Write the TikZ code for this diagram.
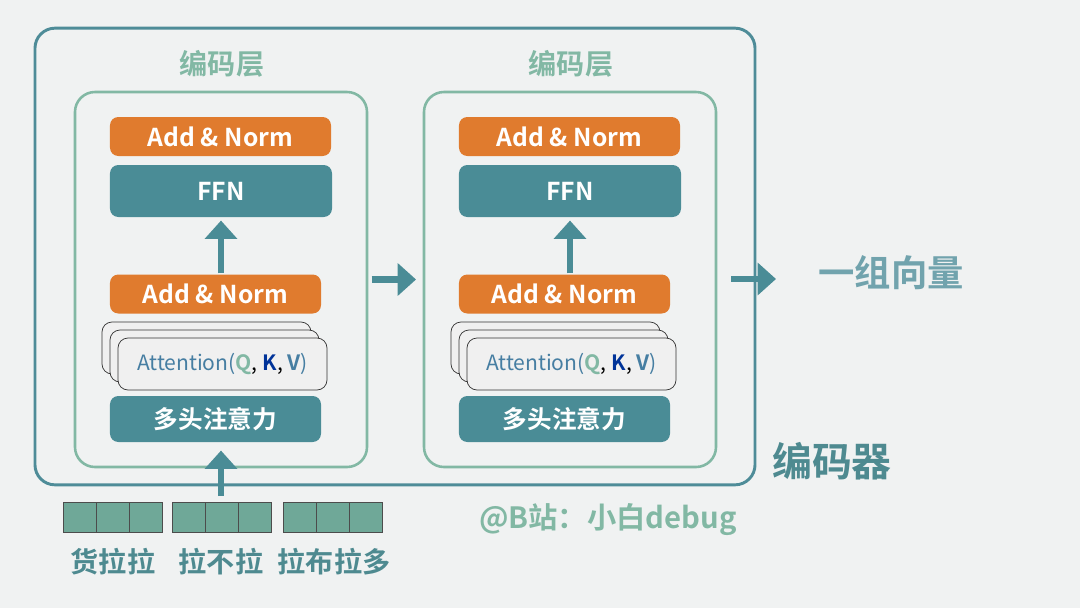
\documentclass[tikz,border=0pt]{standalone}
\usepackage{fontspec}
\setmainfont{Noto Sans CJK SC}[BoldFont={Noto Sans CJK SC Bold}]
\usepackage{xcolor}
\usetikzlibrary{arrows.meta,positioning}
\definecolor{bgc}{HTML}{F0F2F2}
\definecolor{encc}{HTML}{4E8C98}
\definecolor{layc}{HTML}{82B8A4}
\definecolor{orc}{HTML}{E07B2E}
\definecolor{tealc}{HTML}{4A8C96}
\definecolor{tokc}{HTML}{6FA898}
\definecolor{txtc}{HTML}{4E8A90}
\begin{document}
\begin{tikzpicture}[x=0.03cm,y=-0.03cm,font=\bfseries,
    box/.style={rounded corners=0.25cm,text=white,font=\bfseries\fontsize{21}{21}\selectfont},
    addn/.style={box,fill=orc,minimum height=1.17cm},
    blk/.style={box,fill=tealc},
    att/.style={draw=black!80,fill=gray!12,rounded corners=0.3cm,line width=0.6pt,minimum width=6.27cm,minimum height=1.56cm},
    thk/.style={-{Triangle[length=0.55cm,width=0.95cm]},line width=0.2cm,draw=tealc},
    tok/.style={draw=black!70,fill=tokc,minimum width=0.99cm,minimum height=0.9cm,inner sep=0pt,line width=0.6pt}]
    \fill[bgc] (0,0) rectangle (1080,608);
    \node[draw=encc,line width=2.5pt,rounded corners=0.6cm,minimum width=21.6cm,minimum height=13.7cm] (enc) at (395,256.5) {};
    % two encoder layers
    \foreach \i/\dx in {1/0,2/349}{
      \node[draw=layc,line width=2.2pt,rounded corners=0.6cm,minimum width=8.76cm,minimum height=11.25cm] (lay\i) at (221+\dx,279.5) {};
      \node[text=layc,font=\bfseries\fontsize{24}{24}\selectfont] at (222+\dx,64) {编码层};
      \node[addn,minimum width=6.63cm] (top\i) at (220.5+\dx,136.5) {Add \& Norm};
      \node[blk,minimum width=6.66cm,minimum height=1.56cm] (ffn\i) at (221+\dx,191) {FFN};
      \node[addn,minimum width=6.33cm] (an\i) at (215.5+\dx,294) {Add \& Norm};
      \node[att] at (206.5+\dx,348) {};
      \node[att] at (214.5+\dx,356) {};
      \node[att,font=\fontsize{18}{18}\selectfont,inner sep=1pt] (att\i) at (222.5+\dx,364)
        {\textcolor{encc!90!blue}{Attention(}\textcolor{layc}{\textbf{Q}}, \textcolor{blue!50!teal!80!black}{\textbf{K}}, \textcolor{encc!90!blue}{\textbf{V})}};
      \node[blk,minimum width=6.33cm,minimum height=1.38cm] (mh\i) at (215.5+\dx,419) {多头注意力};
      \draw[thk] (an\i.north -| ffn\i.south) ++(0,-1) -- ([yshift=-0.1cm]ffn\i.south);
    }
    \draw[thk] ([xshift=0.1cm]lay1.east) -- ([xshift=-0.2cm]lay2.west);
    \coordinate (out) at (776,279);
    \draw[thk] ([xshift=-0.75cm]enc.east |- out) -- (out);
    \node[text=encc!80!white,font=\bfseries\fontsize{31}{31}\selectfont] (vec) at (891,273) {一组向量};
    \node[text=txtc,font=\bfseries\fontsize{34}{34}\selectfont] (encl) at (832,461) {编码器};
    \node[text=layc,font=\bfseries\fontsize{25}{25}\selectfont] (sig) at (608,520) {@B站：小白debug};
    % input tokens
    \foreach \g/\x in {a/63,b/172,c/283}{
      \foreach \k in {0,1,2}{
        \node[tok,anchor=north west] (\g\k) at (\x+33*\k,502) {};
      }
    }
    \coordinate (in) at (221,496);
    \draw[thk] (in) -- ([yshift=-0.25cm]in |- mh1.south);
    \foreach \t/\x in {货拉拉/113,拉不拉/221,拉布拉多/334}{
      \node[text=txtc,font=\bfseries\fontsize{24}{24}\selectfont] at (\x,562) {\t};
    }
\end{tikzpicture}
\end{document}
